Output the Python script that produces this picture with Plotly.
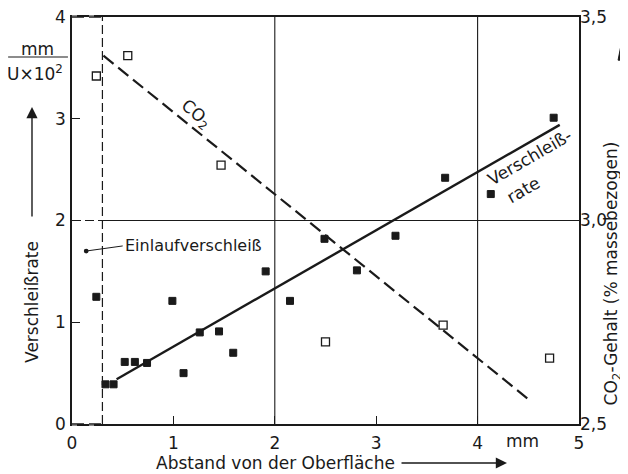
import plotly.graph_objects as go

# ---- data ----
wear_x = [0.24, 0.33, 0.41, 0.52, 0.62, 0.74, 0.99, 1.10, 1.26, 1.45, 1.59, 1.91, 2.15, 2.49, 2.81, 3.19, 3.68, 4.13, 4.75]
wear_y = [1.25, 0.39, 0.39, 0.61, 0.61, 0.60, 1.21, 0.50, 0.90, 0.91, 0.70, 1.50, 1.21, 1.82, 1.51, 1.85, 2.42, 2.26, 3.01]
co2_x = [0.24, 0.55, 1.47, 2.50, 3.66, 4.71]
co2_y = [3.355, 3.405, 3.136, 2.702, 2.743, 2.662]
wear_fit_x = [0.44, 4.81]
wear_fit_y = [0.44, 2.94]
co2_fit_x = [0.31, 4.49]
co2_fit_y = [3.405, 2.563]

x_ticks = [0, 1, 2, 3, 4, 5]
y_ticks = [0, 1, 2, 3, 4]
y2_ticks = [2.5, 3.0, 3.5]
y2_ticktext = ["2,5", "3,0", "3,5"]
grid_x = [2, 4]
grid_y = [2]
einlauf_x = 0.3
einlauf_dot = (0.14, 1.70)
x_range = [0, 5]
y_range = [0, 4]
y2_range = [2.5, 3.5]

FONT = "DejaVu Sans"
INK = "#1a1a1a"

fig = go.Figure()

fig.add_trace(go.Scatter(x=wear_fit_x, y=wear_fit_y, mode="lines",
                         line=dict(color=INK, width=2.4), showlegend=False))
fig.add_trace(go.Scatter(x=co2_fit_x, y=co2_fit_y, mode="lines", yaxis="y2",
                         line=dict(color=INK, width=2.2, dash="13px,6px"), showlegend=False))
fig.add_trace(go.Scatter(x=wear_x, y=wear_y, mode="markers",
                         marker=dict(symbol="square", size=7, color=INK,
                                     line=dict(color=INK, width=1)), showlegend=False))
fig.add_trace(go.Scatter(x=co2_x, y=co2_y, mode="markers", yaxis="y2",
                         marker=dict(symbol="square-open", size=8, color=INK,
                                     line=dict(color=INK, width=1.3)), showlegend=False))

shapes = []
def seg(x0, y0, x1, y1, dash="solid", width=1.2, xref="x", yref="y", layer="below", color=INK):
    shapes.append(dict(type="line", x0=x0, y0=y0, x1=x1, y1=y1, xref=xref, yref=yref,
                       line=dict(color=color, width=width, dash=dash), layer=layer))

ex = (einlauf_x - x_range[0]) / (x_range[1] - x_range[0])
P = dict(xref="paper", yref="paper", layer="above")
# the solid frame comes from the mirrored axis lines; white gaps make the
# part left of the run-in boundary dashed
for yy in (0, 1):
    seg(0, yy, ex, yy, dash="5px,12px", width=3, color="white", **P)
    seg(0, yy, ex, yy, dash="12px,5px", width=1.6, **P)
# grid
for gx in grid_x:
    seg(gx, y_range[0], gx, y_range[1], width=1.1)
for gy in grid_y:
    seg(einlauf_x, gy, x_range[1], gy, width=1.1)
    seg(x_range[0], gy, einlauf_x, gy, dash="9px,4px", width=1.1)
# Einlauf boundary
seg(einlauf_x, y_range[0], einlauf_x, y_range[1], dash="9px,4px", width=1.2)
# fraction bar of unit
seg(-0.126, 0.9017, -0.008, 0.9017, width=1.1, **P)
# arrow of the right axis title (shaft + head)
seg(1.083, 0.698, 1.083, 0.90, width=1.3, **P)
shapes.append(dict(type="path", xref="paper", yref="paper", layer="above",
                   path="M 1.0771,0.894 L 1.083,0.932 L 1.0889,0.894 Z",
                   fillcolor=INK, line=dict(color=INK, width=1)))

f = dict(family=FONT, size=17, color=INK)

def txt(text, x, y, xref="paper", yref="paper", angle=0, **kw):
    d = dict(text=text, x=x, y=y, xref=xref, yref=yref, textangle=angle, showarrow=False,
             xanchor="center", yanchor="middle", font=f)
    d.update(kw)
    return d

def arrow(x, y, ax, ay):
    return dict(text="", xref="paper", yref="paper", x=x, y=y, ax=ax, ay=ay,
                showarrow=True, arrowhead=2, arrowsize=1.6, arrowwidth=1.4, arrowcolor=INK)

annotations = [
    txt("Abstand von der Oberfläche", 0.4004, -0.0958),
    txt("mm", 0.8895, -0.0418),
    txt("Verschleißrate", -0.0789, 0.30, angle=-90),
    txt("mm", -0.069, 0.921),
    txt("U×10<sup>2</sup>", -0.073, 0.862),
    txt("CO<sub>2</sub>-Gehalt (% massebezogen)", 1.066, 0.371, angle=-90),
    txt("CO<sub>2</sub>", 1.22, 3.04, xref="x", yref="y", angle=40),
    txt("Verschleiß-", 4.52, 2.62, xref="x", yref="y", angle=-30),
    txt("rate", 4.45, 2.30, xref="x", yref="y", angle=-30),
    dict(text="Einlaufverschleiß", x=einlauf_dot[0], y=einlauf_dot[1], ax=0.50, ay=1.75,
         axref="x", ayref="y", xanchor="left", yanchor="middle", showarrow=True, arrowhead=6,
         arrowsize=1.2, arrowwidth=1, arrowcolor=INK, standoff=0, startstandoff=0,
         font=dict(family=FONT, size=16, color=INK)),
    arrow(0.858, -0.0958, -107, 0),
    arrow(-0.0789, 0.779, 0, 111),
]

axis_common = dict(showgrid=False, zeroline=False, automargin=False, ticklabeloverflow="allow",
                   tickfont=f, tickcolor=INK)

# the page body adds an 8 px offset, so the figure is 8 px smaller on each side
fig.update_layout(
    width=620, height=466,
    margin=dict(l=64, r=49, t=9, b=50, autoexpand=False),
    paper_bgcolor="white", plot_bgcolor="rgba(0,0,0,0)",
    font=f,
    shapes=shapes, annotations=annotations,
    xaxis=dict(range=x_range, tickvals=x_ticks, showline=True, mirror=True, linewidth=1.7,
               linecolor=INK, ticks="inside", ticklen=8, tickwidth=1.2, ticklabelstandoff=3,
               **axis_common),
    yaxis=dict(range=y_range, tickvals=y_ticks, showline=True, mirror=True, linewidth=1.6,
               linecolor=INK, ticks="inside", ticklen=8, tickwidth=1.2, ticklabelstandoff=1,
               **axis_common),
    yaxis2=dict(range=y2_range, overlaying="y", side="right", tickvals=y2_ticks,
                ticktext=y2_ticktext, showline=False, ticks="", **axis_common),
)

fig.write_html("out.html", config={"displayModeBar": False})
